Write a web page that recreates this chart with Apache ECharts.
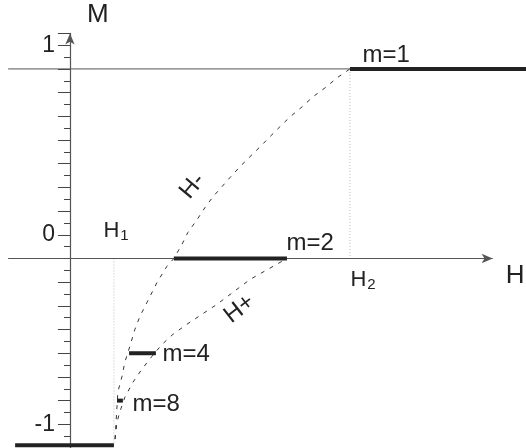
<!DOCTYPE html>
<html lang="en">

<head>
    <meta charset="UTF-8">
    <title>M(H)</title>
</head>

<body style="height: 100%; margin: 0">
    <div id="container" style="width:526px;height: 448px"></div>
    <script type="text/javascript" src="https://cdn.jsdelivr.net/npm/echarts@6/dist/echarts.min.js"></script>
    <script type="text/javascript">
        // plateaus [H, M]
        var segM1 = [[1.0, 1], [1.629, 1]];
        var segM2 = [[0.371, 0], [0.775, 0]];
        var segM4 = [[0.211, -0.5], [0.307, -0.5]];
        var segM8 = [[0.168, -0.75], [0.189, -0.75]];
        var segSat = [[-0.196, -0.985], [0.157, -0.985]];
        var refM1 = [[-0.221, 1], [1.629, 1]];
        var lineH1 = [[0.157, 0], [0.157, -0.985]];
        var lineH2 = [[1.0, 1], [1.0, 0]];
        var hAxisRange = [-0.221, 1.51];
        // H- and H+ curves
        var curveHminus = [[0.161, -0.953], [0.168, -0.779], [0.171, -0.705], [0.186, -0.621], [0.196, -0.547],
            [0.214, -0.463], [0.232, -0.374], [0.25, -0.305], [0.275, -0.232], [0.311, -0.126], [0.346, -0.042],
            [0.371, 0], [0.4, 0.074], [0.421, 0.137], [0.454, 0.205], [0.482, 0.268], [0.511, 0.326],
            [0.543, 0.379], [0.571, 0.426], [0.607, 0.484], [0.643, 0.537], [0.679, 0.589], [0.714, 0.642],
            [0.75, 0.695], [0.786, 0.747], [0.829, 0.8], [0.868, 0.853], [0.911, 0.9], [0.954, 0.953], [1.0, 1.0]];
        var curveHplus = [[0.161, -0.953], [0.168, -0.863], [0.179, -0.805], [0.196, -0.732], [0.225, -0.653],
            [0.257, -0.584], [0.293, -0.516], [0.329, -0.453], [0.368, -0.4], [0.418, -0.347], [0.525, -0.242],
            [0.643, -0.111], [0.775, 0]];
        // y tick labels (drawn a little above their lines, as in the figure)
        var yTickValues = [1.125, 0.125, -0.875];
        var yTickLabels = ['1', '0', '-1'];

        var dom = document.getElementById("container");
        var myChart = echarts.init(dom);
        var ink = '#222';
        var font = 'Liberation Sans, Arial, sans-serif';

        // line series; optional label on one point
        function seg(data, style, labelAt, label) {
            return {
                type: 'line',
                data: data.map(function (p, i) {
                    if (i === labelAt) {
                        return { value: p, symbolSize: 1, label: Object.assign({ show: true, color: ink, fontSize: 24, fontFamily: font }, label) };
                    }
                    return { value: p, symbolSize: 0 };
                }),
                symbol: 'circle',
                showSymbol: true,
                itemStyle: { color: 'transparent' },
                lineStyle: style,
                clip: false,
                silent: true,
                z: style.width > 2 ? 5 : 3
            };
        }
        var thick = { color: ink, width: 4 };
        var dash = { color: '#333', width: 1, type: [4, 6] };
        var dot = { color: '#bbb', width: 1, type: [1, 2] };
        var subRich = {
            h: { fontSize: 22, color: ink, fontFamily: font },
            s: { fontSize: 15, color: ink, fontFamily: font, padding: [10, 0, 0, 1] }
        };

        // H axis with arrow, drawn as a markLine so it can stop before the plot edge
        var hAxis = {
            type: 'line', data: [], silent: true,
            markLine: {
                silent: true, animation: false,
                symbol: ['none', 'arrow'], symbolSize: [7, 11],
                lineStyle: { color: '#555', width: 1.2, type: 'solid' },
                label: {
                    show: true, position: 'end', formatter: 'H', distance: 13, offset: [0, 17],
                    fontSize: 26, color: ink, fontFamily: font
                },
                data: [[{ coord: [hAxisRange[0], 0] }, { coord: [hAxisRange[1], 0] }]]
            }
        };

        var option = {
            animation: false,
            grid: { left: 8, top: 33.4, width: 518, height: 414.6, outerBoundsMode: 'none' },
            xAxis: {
                type: 'value', min: -0.2214, max: 1.629,
                axisLine: { show: false },
                axisTick: { show: false }, axisLabel: { show: false }, splitLine: { show: false }
            },
            yAxis: {
                type: 'value', min: -1, max: 1.1875, interval: 0.125,
                name: 'M', nameLocation: 'end', nameGap: 6,
                nameTextStyle: { fontSize: 26, color: ink, fontFamily: font, align: 'left', verticalAlign: 'bottom', padding: [0, 0, 0, 17] },
                axisLine: { lineStyle: { color: '#555', width: 1.2 }, symbol: ['none', 'arrow'], symbolSize: [7, 11] },
                axisTick: { show: true, inside: false, length: 12, lineStyle: { color: '#444' } },
                minorTick: { show: true, splitNumber: 2, length: 6, lineStyle: { color: '#444' } },
                axisLabel: {
                    margin: -47, fontSize: 23, color: ink, fontFamily: font, align: 'right', verticalAlign: 'middle', padding: [6, 0, 0, 0],
                    formatter: function (v) {
                        var i = yTickValues.indexOf(v);
                        return i < 0 ? '' : yTickLabels[i];
                    }
                },
                splitLine: { show: false }
            },
            series: [
                hAxis,
                seg(refM1, { color: '#555', width: 1 }),
                seg(lineH1, dot, 0, { formatter: '{h|H}{s|1}', rich: subRich, position: [-10, -27], align: 'left', verticalAlign: 'middle' }),
                seg(lineH2, dot, 1, { formatter: '{h|H}{s|2}', rich: subRich, position: [1, 22], align: 'left', verticalAlign: 'middle' }),
                seg(curveHminus, dash, 17, { formatter: 'H-', position: [-29, 0], align: 'center', verticalAlign: 'middle', rotate: 50 }),
                seg(curveHplus, dash, 10, { formatter: 'H+', position: [23, 5], align: 'center', verticalAlign: 'middle', rotate: 38 }),
                seg(segM1, thick, 0, { formatter: 'm=1', position: [13, -13], align: 'left', verticalAlign: 'middle' }),
                seg(segM2, thick, 1, { formatter: 'm=2', position: [0, -15], align: 'left', verticalAlign: 'middle' }),
                seg(segM4, thick, 1, { formatter: 'm=4', position: [7, 2], align: 'left', verticalAlign: 'middle' }),
                seg(segM8, thick, 1, { formatter: 'm=8', position: [10, 4], align: 'left', verticalAlign: 'middle' }),
                seg(segSat, thick)
            ]
        };
        myChart.setOption(option);
    </script>
</body>

</html>
